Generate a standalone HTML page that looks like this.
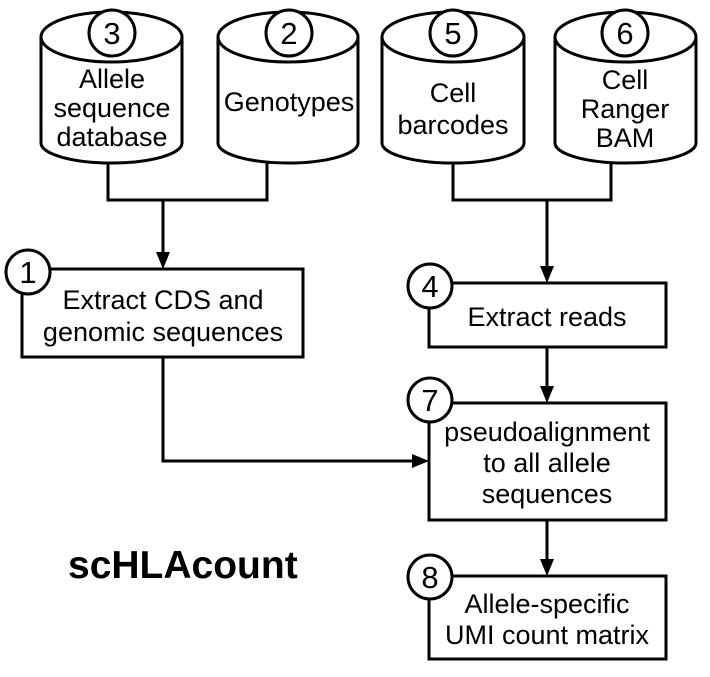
<!DOCTYPE html>
<html><head><style>body{margin:0;background:#fff}svg{display:block}text{font-family:"Liberation Sans",Arial,sans-serif;fill:#000}</style></head>
<body>
<svg width="710" height="677" viewBox="0 0 710 677" xmlns="http://www.w3.org/2000/svg">
<g fill="#fff" stroke="#000" stroke-width="3">
<path d="M41,37 A70.5,25 0 0 1 182,37 L182,143 A70.5,20 0 0 1 41,143 Z"/><path d="M41,37 A70.5,25 0 0 0 182,37" fill="none"/>
<path d="M218,37 A70,25 0 0 1 358,37 L358,143 A70,20 0 0 1 218,143 Z"/><path d="M218,37 A70,25 0 0 0 358,37" fill="none"/>
<path d="M382,37 A71,25 0 0 1 524,37 L524,143 A71,20 0 0 1 382,143 Z"/><path d="M382,37 A71,25 0 0 0 524,37" fill="none"/>
<path d="M555,37 A70.5,25 0 0 1 696,37 L696,143 A70.5,20 0 0 1 555,143 Z"/><path d="M555,37 A70.5,25 0 0 0 696,37" fill="none"/>
<path d="M108,163 V200 H267 V163 M453,163 V200 H611 V163" fill="none"/>
<rect x="22" y="269" width="281" height="88"/>
<rect x="429" y="283" width="237" height="64"/>
<rect x="429" y="403" width="237" height="117"/>
<rect x="429" y="576" width="237" height="83"/>
</g>
<g stroke="#000" stroke-width="3" fill="none">
<path d="M163,200 V254"/>
<path d="M547,200 V268"/>
<path d="M547,347 V388"/>
<path d="M547,520 V561"/>
<path d="M163,357 V461 H414"/>
</g>
<g fill="#000">
<path d="M156,252 L170,252 L163,269 Z"/>
<path d="M540,266 L554,266 L547,283 Z"/>
<path d="M540,386 L554,386 L547,403 Z"/>
<path d="M540,559 L554,559 L547,576 Z"/>
<path d="M412,454 L412,468 L429,461 Z"/>
</g>
<g fill="#fff" stroke="#000" stroke-width="3">
<circle cx="112" cy="33" r="23"/><circle cx="289" cy="33" r="23"/><circle cx="453" cy="33" r="23"/><circle cx="625" cy="33" r="23"/>
<circle cx="28" cy="272" r="22"/><circle cx="430" cy="286" r="22"/><circle cx="430" cy="400" r="22"/><circle cx="430" cy="577" r="22"/>
</g>
<g font-size="31" text-anchor="middle">
<text x="112" y="44">3</text><text x="289" y="44">2</text><text x="453" y="44">5</text><text x="625" y="44">6</text>
<text x="28" y="283">1</text><text x="430" y="297">4</text><text x="430" y="411">7</text><text x="430" y="588">8</text>
</g>
<g font-size="27" text-anchor="middle">
<text x="112" y="88">Allele</text><text x="112" y="117">sequence</text><text x="112" y="146">database</text>
<text x="289" y="111">Genotypes</text>
<text x="453" y="102">Cell</text><text x="453" y="134">barcodes</text>
<text x="625" y="89">Cell</text><text x="625" y="118">Ranger</text><text x="625" y="147">BAM</text>
<text x="163" y="309">Extract CDS and</text><text x="163" y="341">genomic sequences</text>
<text x="547" y="326">Extract reads</text>
<text x="547" y="441">pseudoalignment</text><text x="547" y="472">to all allele</text><text x="547" y="503">sequences</text>
<text x="547" y="613">Allele-specific</text><text x="547" y="644">UMI count matrix</text>
</g>
<text x="68" y="578" font-size="39" font-weight="bold">scHLAcount</text>
</svg>
</body></html>
